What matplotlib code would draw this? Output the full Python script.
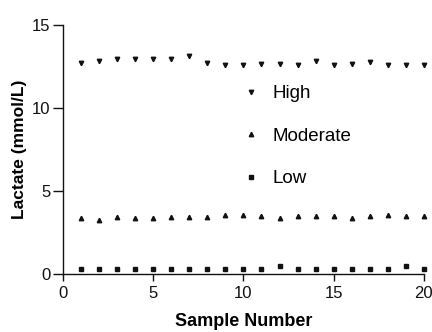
import matplotlib
matplotlib.use("Agg")
import matplotlib.pyplot as plt
from matplotlib.lines import Line2D

plt.rcParams['font.family'] = ['Liberation Sans', 'DejaVu Sans']

samples = list(range(1, 21))
high = [12.7, 12.85, 12.95, 12.95, 12.95, 12.95, 13.15, 12.7, 12.6, 12.6,
        12.65, 12.65, 12.6, 12.8, 12.6, 12.65, 12.75, 12.6, 12.6, 12.6]
moderate = [3.35, 3.25, 3.45, 3.35, 3.35, 3.45, 3.45, 3.45, 3.55, 3.55,
            3.5, 3.35, 3.5, 3.5, 3.5, 3.35, 3.5, 3.57, 3.5, 3.5]
low = [0.3, 0.3, 0.3, 0.3, 0.3, 0.3, 0.32, 0.32, 0.3, 0.3,
       0.3, 0.45, 0.3, 0.3, 0.3, 0.3, 0.3, 0.3, 0.45, 0.3]
labels = ["High", "Moderate", "Low"]
xticks = [0, 5, 10, 15, 20]
yticks = [0, 5, 10, 15]

fig = plt.figure(figsize=(4.32, 3.32), dpi=100)
ax = fig.add_axes([0.146, 0.175, 0.835, 0.75])

c = '#111111'
ax.plot(samples, high, linestyle='none', marker='v', ms=3.2, color=c, clip_on=False)
ax.plot(samples, moderate, linestyle='none', marker='^', ms=3.2, color=c, clip_on=False)
ax.plot(samples, low, linestyle='none', marker='s', ms=3.0, color=c, clip_on=False)

ax.set_xlim(0, 20)
ax.set_ylim(0, 15)
ax.set_xticks(xticks)
ax.set_yticks(yticks)
for s in ['top', 'right']:
    ax.spines[s].set_visible(False)
for s in ['left', 'bottom']:
    ax.spines[s].set_linewidth(1.0)
    ax.spines[s].set_color(c)
ax.tick_params(axis='both', direction='out', length=5, width=1, labelsize=12, colors=c)
ax.tick_params(axis='y', length=7, pad=2)

ax.set_xlabel("Sample Number", fontsize=13, fontweight='bold', labelpad=9)
ax.set_ylabel("Lactate (mmol/L)", fontsize=12.5, fontweight='bold', labelpad=4)

handles = [Line2D([], [], linestyle='none', marker='v', ms=3.2, color=c),
           Line2D([], [], linestyle='none', marker='^', ms=3.2, color=c),
           Line2D([], [], linestyle='none', marker='s', ms=3.0, color=c)]
ax.legend(handles, labels, frameon=False, loc='upper left',
          bbox_to_anchor=(0.435, 0.825), fontsize=13.5, labelspacing=1.35,
          handletextpad=0.4, handlelength=1.5)

fig.savefig("out.png", dpi=100)
